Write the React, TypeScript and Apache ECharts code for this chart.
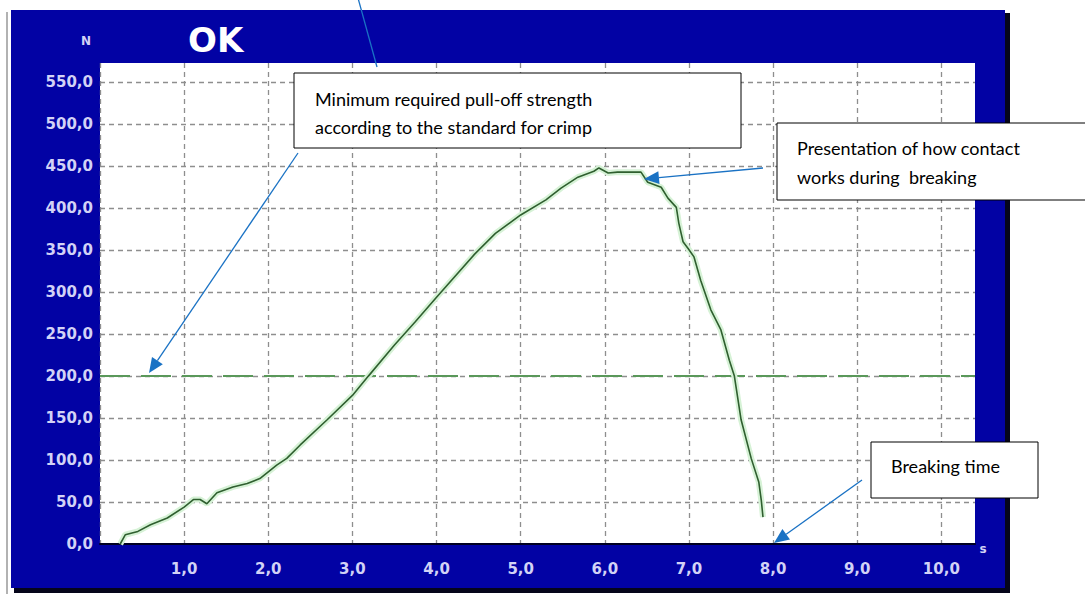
import React, { useEffect, useRef } from "react";
import * as echarts from "echarts";

const timeS = [0.24, 0.3, 0.45, 0.6, 0.8, 1.0, 1.11, 1.19, 1.27, 1.39, 1.58, 1.75, 1.9, 2.0, 2.1, 2.22, 2.38, 2.7, 3.0, 3.19, 3.5, 3.75, 4.0, 4.45, 4.7, 5.0, 5.3, 5.48, 5.68, 5.87, 5.93, 6.04, 6.15, 6.43, 6.51, 6.67, 6.75, 6.85, 6.88, 6.93, 6.99, 7.06, 7.14, 7.26, 7.38, 7.48, 7.54, 7.62, 7.74, 7.83, 7.86, 7.88];
const forceN = [0, 11, 15, 23, 31, 44, 53, 53, 48, 61, 68, 72, 78, 86, 94, 102, 118, 148, 177, 200, 237, 265, 294, 345, 370, 392, 410, 424, 437, 444, 448, 442, 443, 443, 431, 425, 412, 401, 382, 360, 352, 342, 314, 279, 255, 219, 200, 148, 102, 74, 52, 32];
const requiredN = 200;
const xTicks = [0, 1, 2, 3, 4, 5, 6, 7, 8, 9, 10];
const yTicks = [0, 50, 100, 150, 200, 250, 300, 350, 400, 450, 500, 550];
const titleText = "OK";
const note1 = ["Minimum required pull-off strength", "according to the standard for crimp"];
const note2 = ["Presentation of how contact", "works during  breaking"];
const note3 = ["Breaking time"];

const fmt = (v: number) => v.toFixed(1).replace(".", ",");

function arrow(x1: number, y1: number, x2: number, y2: number, head: boolean) {
  const color = "#1a72c4";
  const dx = x2 - x1, dy = y2 - y1;
  const len = Math.hypot(dx, dy);
  const ux = dx / len, uy = dy / len;
  const L = 15, W = 6.5;
  const bx = x2 - ux * L, by = y2 - uy * L;
  const els: any[] = [
    { type: "line", z: 100, shape: { x1, y1, x2: head ? bx : x2, y2: head ? by : y2 }, style: { stroke: color, lineWidth: 1.3 } },
  ];
  if (head) {
    els.push({
      type: "polygon", z: 100,
      shape: { points: [[x2, y2], [bx - uy * W, by + ux * W], [bx + uy * W, by - ux * W]] },
      style: { fill: color },
    });
  }
  return els;
}

function noteBox(x: number, y: number, w: number, h: number, lines: string[], tx: number, ty: number, gap: number) {
  const els: any[] = [
    { type: "rect", z: 101, shape: { x, y, width: w, height: h }, style: { fill: "#ffffff", stroke: "#000000", lineWidth: 1 } },
  ];
  lines.forEach((t, i) => {
    els.push({
      type: "text", z: 102,
      style: { text: t, x: tx, y: ty + i * gap, fill: "#000000", font: "18px Lato", verticalAlign: "middle", align: "left" },
    });
  });
  return els;
}

export default function App() {
  const ref = useRef<HTMLDivElement>(null);
  useEffect(() => {
    if (!ref.current) return;
    const chart = echarts.init(ref.current, null, { renderer: "svg" });
    const curve = timeS.map((t, i) => [t, forceN[i]]);
    const labelColor = "#d2d2f6";
    const gridLine = { show: true, showMinLine: false, showMaxLine: false, lineStyle: { color: "#8e8e8e", type: [5, 4], width: 1.3 } };
    chart.setOption({
      animation: false,
      backgroundColor: "#ffffff",
      grid: { left: 100, top: 63, right: 110, bottom: 52, show: true, backgroundColor: "#ffffff", borderWidth: 0 },
      xAxis: {
        type: "value", min: 0, max: 10.4, interval: 1,
        axisLine: { show: true, onZero: false, lineStyle: { color: "#000022", width: 2 } },
        axisTick: { show: false },
        splitLine: { ...gridLine, showMinLine: true },
        axisLabel: {
          color: labelColor, fontFamily: "DejaVu Sans", fontWeight: "bold", fontSize: 15, margin: 17,
          formatter: (v: number) => (xTicks.includes(v) && v !== 0 ? fmt(v) : ""),
        },
      },
      yAxis: {
        type: "value", min: 0, max: 573, interval: 50,
        axisLine: { show: false }, axisTick: { show: false },
        splitLine: gridLine,
        axisLabel: {
          color: labelColor, fontFamily: "DejaVu Sans", fontWeight: "bold", fontSize: 15, margin: 7,
          formatter: (v: number) => (yTicks.includes(v) ? fmt(v) : ""),
        },
      },
      series: [
        {
          type: "line", data: [[0, requiredN], [10.4, requiredN]], symbol: "none", z: 3,
          lineStyle: { color: "#5a985a", width: 2, type: [30, 11] },
        },
        {
          type: "line", data: curve, symbol: "none", z: 4,
          lineStyle: { color: "#d6f2d6", width: 6 },
        },
        {
          type: "line", data: curve, symbol: "none", z: 5,
          lineStyle: { color: "#2f5f2f", width: 1.6 },
        },
      ],
      graphic: [
        { type: "line", z: -20, shape: { x1: 7, y1: 12, x2: 7, y2: 594 }, style: { stroke: "#999999", lineWidth: 1.5 } },
        { type: "rect", z: -20, shape: { x: 14, y: 13, width: 996, height: 580 }, style: { fill: "#05051a" } },
        { type: "rect", z: -19, shape: { x: 11, y: 10, width: 994, height: 578 }, style: { fill: "#0202a4" } },
        { type: "text", z: 50, style: { text: titleText, x: 188, y: 40, fill: "#ffffff", font: "bold 34px 'DejaVu Sans'", verticalAlign: "middle" } },
        { type: "text", z: 50, style: { text: "N", x: 86, y: 41, fill: labelColor, font: "bold 12px 'DejaVu Sans'", verticalAlign: "middle", align: "center" } },
        { type: "text", z: 50, style: { text: "s", x: 983, y: 549, fill: labelColor, font: "bold 12px 'DejaVu Sans'", verticalAlign: "middle", align: "center" } },
        ...noteBox(294, 73, 447, 75, note1, 315, 99, 28),
        ...noteBox(777, 123, 320, 77, note2, 797, 148, 29),
        ...noteBox(871, 442, 167, 56, note3, 891, 466, 28),
        ...arrow(377, 67, 358, -2, false),
        ...arrow(298, 153, 149, 373, true),
        ...arrow(763, 168, 644, 179, true),
        ...arrow(862, 480, 774, 543, true),
      ],
    });
    return () => chart.dispose();
  }, []);
  return <div ref={ref} style={{ position: "fixed", left: 0, top: 0, width: 1085, height: 596 }} />;
}
